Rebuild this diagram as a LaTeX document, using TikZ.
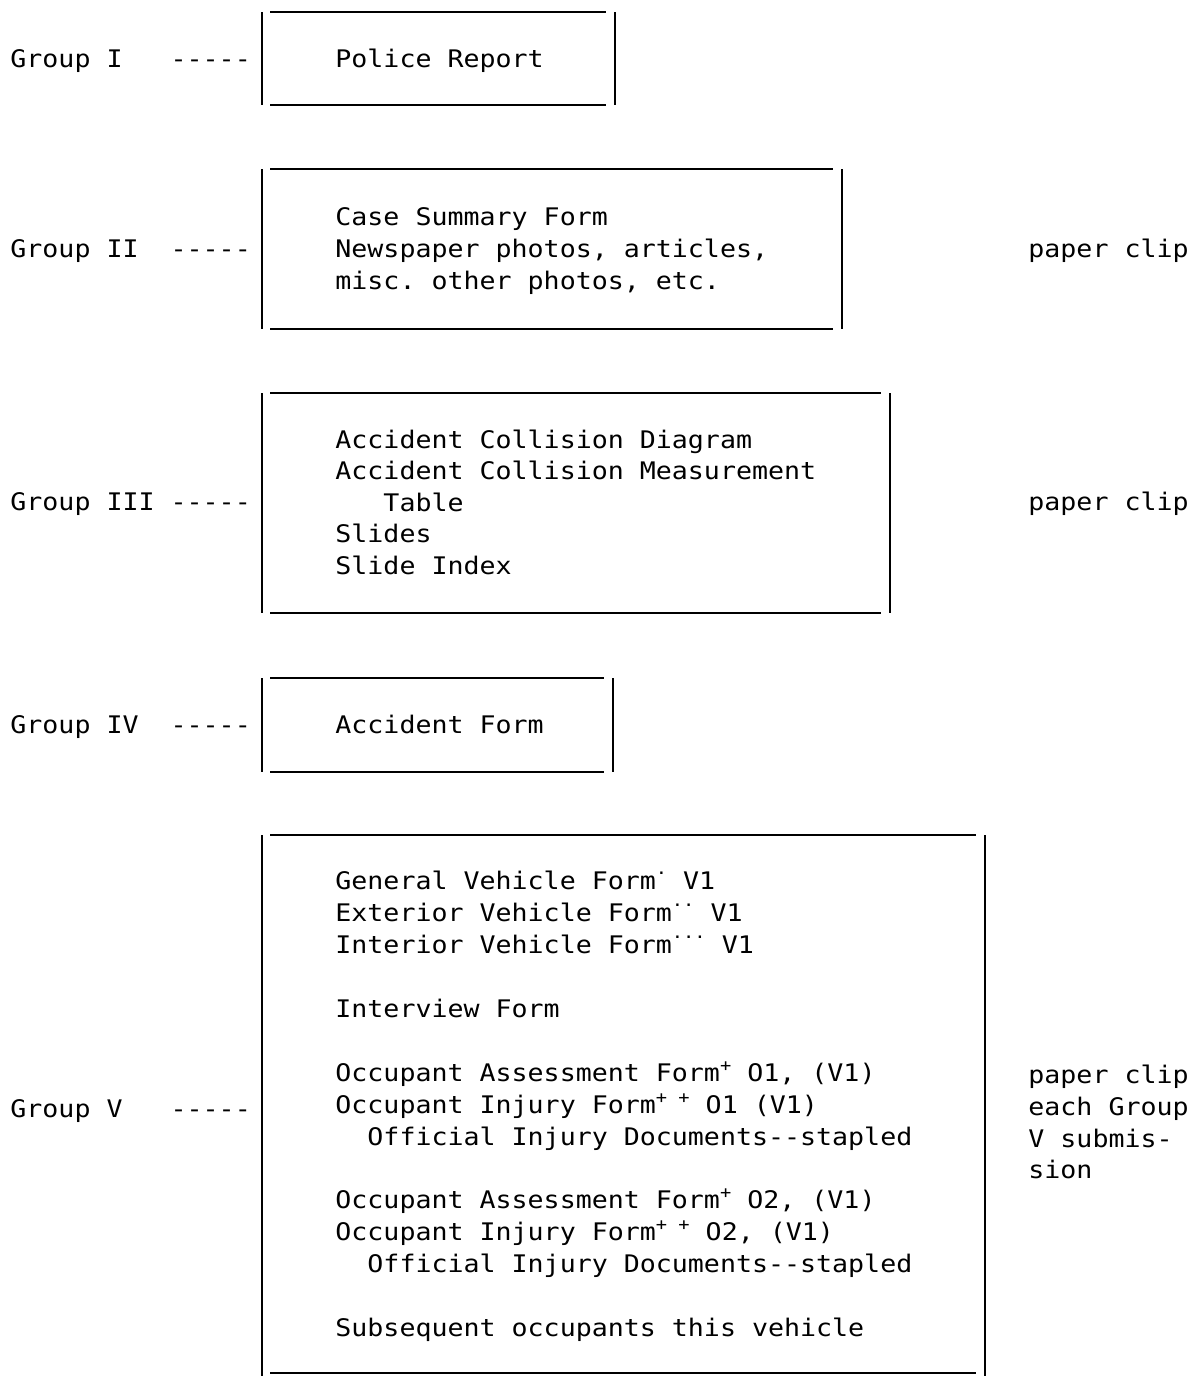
\documentclass[tikz,border=0pt]{standalone}
\usepackage{fontspec}
\setmonofont{DejaVu Sans Mono}[FakeStretch=1.1]
\newcommand\fnmark[2]{\raisebox{#1}{\fontsize{8.5}{8.5}\selectfont #2}}
\begin{document}
\begin{tikzpicture}[x=0.5pt,y=-0.5pt]
  \tikzset{
    every node/.style={anchor=base west,inner sep=0pt,
      font=\ttfamily\fontsize{12.1}{15}\selectfont},
    frame/.style={line width=1.2pt}
  }
  \useasboundingbox (0,0) rectangle (1192,1376);

  % group labels
  \node (grp1) at (10,67)   {Group I~~~-----};
  \node (grp2) at (10,257)  {Group II~~-----};
  \node (grp3) at (10,510)  {Group III~-----};
  \node (grp4) at (10,733)  {Group IV~~-----};
  \node (grp5) at (10,1117) {Group V~~~-----};

  % boxes: left, top, right, bottom
  \foreach \l/\t/\r/\b in {262/12/615/105, 262/169/842/329, 262/393/890/613,
                           262/678/613/772, 262/835/985/1376} {
    \draw[frame] (\l,\t) -- (\l,\b);
    \draw[frame] (\r,\t) -- (\r,\b);
    \draw[frame] (\l+8,\t) -- (\r-9,\t);
    \draw[frame] (\l+8,{min(\b,1373)}) -- (\r-9,{min(\b,1373)});
  }

  % group I
  \node (pol) at (335,67) {Police Report};

  % group II
  \node (cs1) at (335,225) {Case Summary Form};
  \node (cs2) at (335,257) {Newspaper photos, articles,};
  \node (cs3) at (335,289) {misc. other photos, etc.};

  % group III
  \node (ac1) at (335,448) {Accident Collision Diagram};
  \node (ac2) at (335,479) {Accident Collision Measurement};
  \node (ac3) at (335,511) {~~~Table};
  \node (ac4) at (335,542) {Slides};
  \node (ac5) at (335,574) {Slide Index};

  % group IV
  \node (acf) at (335,733) {Accident Form};

  % group V
  \node (v1)  at (335,889)  {General Vehicle Form\fnmark{7.5pt}{.}~V1};
  \node (v2)  at (335,921)  {Exterior Vehicle Form\fnmark{7.5pt}{..}~V1};
  \node (v3)  at (335,953)  {Interior Vehicle Form\fnmark{7.5pt}{...}~V1};
  \node (v4)  at (335,1017) {Interview Form};
  \node (v5)  at (335,1081) {Occupant Assessment Form\fnmark{5pt}{+}~O1, (V1)};
  \node (v6)  at (335,1113) {Occupant Injury Form\fnmark{5pt}{+~+}~O1 (V1)};
  \node (v7)  at (335,1145) {~~Official Injury Documents--stapled};
  \node (v8)  at (335,1208) {Occupant Assessment Form\fnmark{5pt}{+}~O2, (V1)};
  \node (v9)  at (335,1240) {Occupant Injury Form\fnmark{5pt}{+~+}~O2, (V1)};
  \node (v10) at (335,1272) {~~Official Injury Documents--stapled};
  \node (v11) at (335,1336) {Subsequent occupants this vehicle};

  % clips
  \node (clip2) at (1028,257)  {paper clip};
  \node (clip3) at (1028,510)  {paper clip};
  \node (clip5) at (1028,1083) {paper clip};
  \node (each5) at (1028,1115) {each Group};
  \node (subm5) at (1028,1147) {V submis-};
  \node (sion5) at (1028,1178) {sion};

\end{tikzpicture}
\end{document}
